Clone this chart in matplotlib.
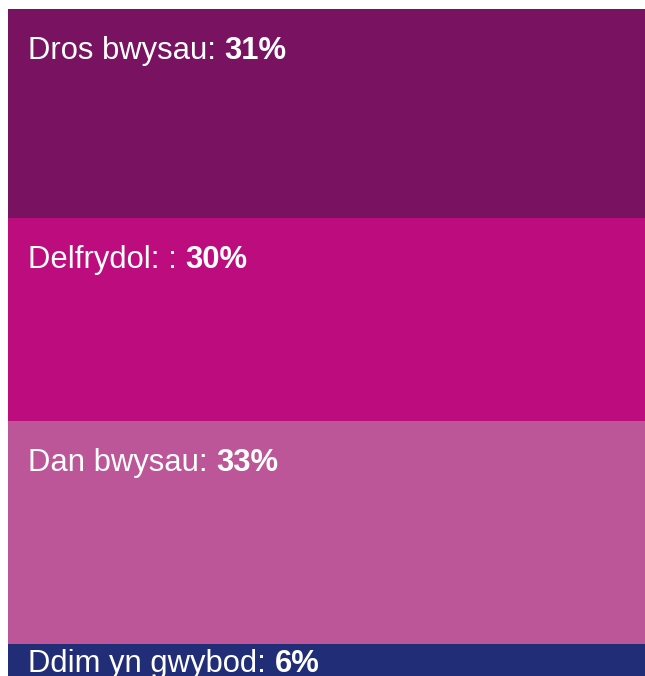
import matplotlib

matplotlib.use("Agg")
import matplotlib.pyplot as plt
from matplotlib.patches import Rectangle

# Weight perception shares (stacked top to bottom)
labels = ["Dros bwysau:", "Delfrydol: :", "Dan bwysau:", "Ddim yn gwybod:"]
shares = [31, 30, 33, 6]
colors = ["#7a1262", "#bc0c7e", "#bc5698", "#222d78"]

W, H = 645, 676
fig = plt.figure(figsize=(W / 100, H / 100), dpi=100)
# stacked column runs past the bottom edge, like the original crop
ax = fig.add_axes([8 / W, (H - 9 - 675) / H, 637 / W, 675 / H])
ax.set_xlim(0, 1)
ax.set_ylim(100, 0)
ax.axis("off")

font = "Liberation Sans"
fs = 22.3
top = 0
regs = []
for lab, val, col in zip(labels, shares, colors):
    ax.add_patch(Rectangle((0, top), 1, val, facecolor=col, edgecolor="none"))
    # big blocks get roomy padding, the thin last one hugs its top edge
    pad_pt = 36 if val > 10 else 20.5
    t = ax.annotate(lab + " ", xy=(0, top), xycoords="data",
                    xytext=(14.5, -pad_pt), textcoords="offset points",
                    ha="left", va="baseline", color="white",
                    fontsize=fs, family=font, annotation_clip=False)
    regs.append((t, f"{val}%"))
    top += val

# bold percentage right after the regular label, on the same baseline
fig.canvas.draw()
r = fig.canvas.get_renderer()
for t, pct in regs:
    bb = t.get_window_extent(r)
    base = t._get_xy_display()
    fig.text(bb.x1 / W, base[1] / H, pct, ha="left", va="baseline",
             color="white", fontsize=fs, fontweight="bold", family=font)

fig.savefig("out.png", dpi=100)
